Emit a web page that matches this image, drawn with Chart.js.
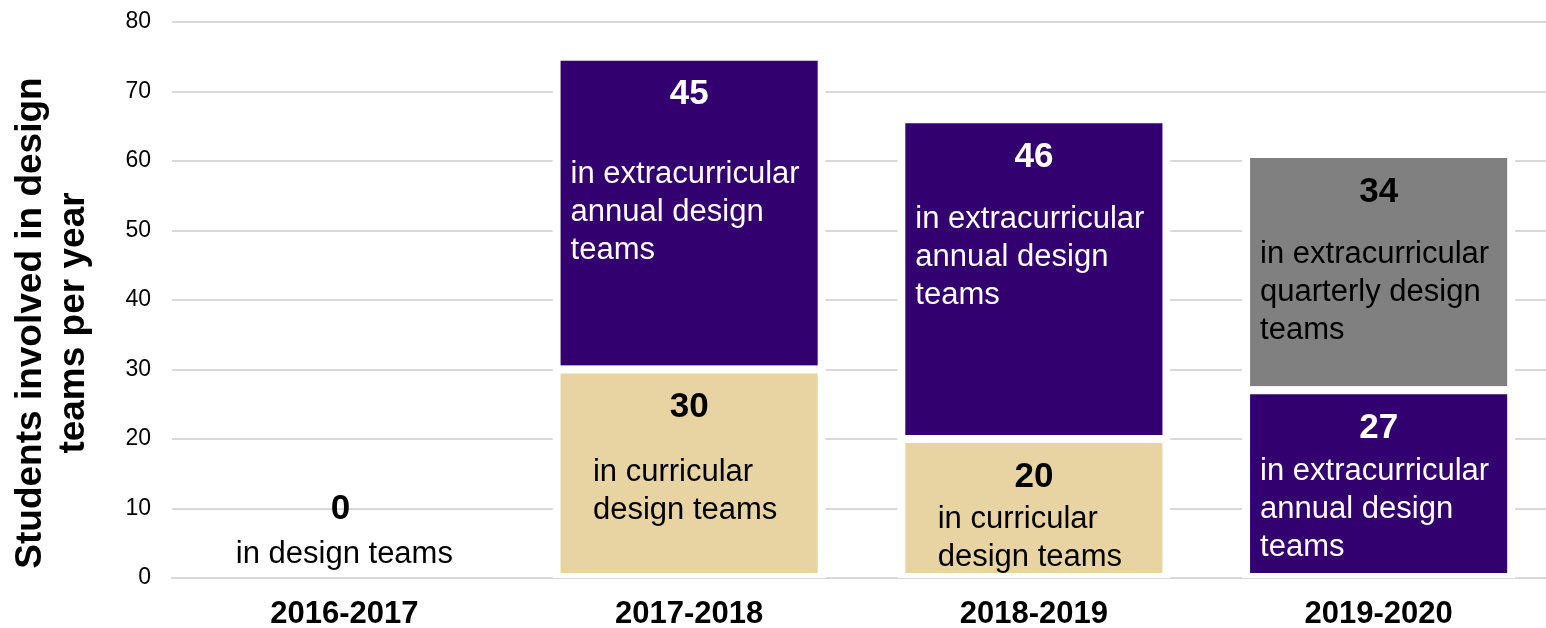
<!DOCTYPE html>
<html>
<head>
<meta charset="utf-8">
<script src="https://cdn.jsdelivr.net/npm/chart.js@4/dist/chart.umd.min.js"></script>
<style>
  html, body { margin: 0; padding: 0; background: #fff; overflow: hidden; }
</style>
</head>
<body>
<canvas id="grafico" width="1551" height="628"></canvas>
<script>
const anos = ["2016-2017", "2017-2018", "2018-2019", "2019-2020"];
const curriculares = [0, 30, 20, 0];
const anuais = [0, 45, 46, 27];
const trimestrais = [0, 0, 0, 34];
const ticksY = [0, 10, 20, 30, 40, 50, 60, 70, 80];

const textoCurricular = ["in curricular", "design teams"];
const textoAnual = ["in extracurricular", "annual design", "teams"];
const textoTrimestral = ["in extracurricular", "quarterly design", "teams"];
const textoZero = ["in design teams"];
const tituloY = ["Students involved in design", "teams per year"];

const FONTE = "'Liberation Sans', Arial, sans-serif";
const ROXO = "#33006f";
const BEGE = "#e8d3a2";
const CINZA = "#808080";

// distance between the number and the first caption line, per segment
const espacos = [
    [0, 65, 42, 0],
    [0, 80, 62, 43],
    [0, 0, 0, 62]
];

function desenharRotulo(ctx, x, yNum, valor, linhas, espaco, cor) {
    ctx.fillStyle = cor;
    ctx.textBaseline = "middle";
    ctx.textAlign = "center";
    ctx.font = "bold 35px " + FONTE;
    ctx.fillText(String(valor), x, yNum);
    ctx.font = "31px " + FONTE;
    let largura = 0;
    linhas.forEach(l => { largura = Math.max(largura, ctx.measureText(l).width); });
    ctx.textAlign = "left";
    const x0 = linhas.length > 1 ? x - largura / 2 - 4 : x - largura / 2 + 4;
    linhas.forEach((l, k) => {
        ctx.fillText(l, x0, yNum + espaco + k * 38);
    });
}

const rotulos = {
    id: "rotulos",
    afterDatasetsDraw(chart) {
        const ctx = chart.ctx;
        const textos = [textoCurricular, textoAnual, textoTrimestral];
        const cores = ["#000", "#fff", "#000"];
        ctx.save();
        anos.forEach((ano, i) => {
            let total = 0;
            chart.data.datasets.forEach((ds, d) => {
                const v = ds.data[i];
                total += v;
                if (!v) return;
                const barra = chart.getDatasetMeta(d).data[i];
                desenharRotulo(ctx, barra.x, barra.y + 38, v, textos[d], espacos[d][i], cores[d]);
            });
            if (total === 0) {
                const x = chart.getDatasetMeta(0).data[i].x;
                const base = chart.scales.y.getPixelForValue(0);
                desenharRotulo(ctx, x - 4, base - 69, 0, textoZero, 45, "#000");
            }
        });
        ctx.restore();
    }
};

const tituloEixo = {
    id: "tituloEixo",
    afterDraw(chart) {
        const ctx = chart.ctx;
        ctx.save();
        ctx.translate(0, 323);
        ctx.rotate(-Math.PI / 2);
        ctx.fillStyle = "#000";
        ctx.font = "bold 37px " + FONTE;
        ctx.textAlign = "center";
        ctx.textBaseline = "alphabetic";
        ctx.fillText(tituloY[0], 0, 41);
        ctx.fillText(tituloY[1], 0, 84);
        ctx.restore();
    }
};

function serie(nome, dados, cor) {
    return {
        label: nome,
        data: dados,
        backgroundColor: cor,
        borderColor: "#fff",
        borderWidth: c => c.raw ? 8 : 0,
        inflateAmount: c => c.raw ? 4 : 0,
        borderSkipped: false,
        barPercentage: 0.769,
        categoryPercentage: 1
    };
}

new Chart(document.getElementById("grafico").getContext("2d"), {
    type: "bar",
    data: {
        labels: anos,
        datasets: [
            serie("curricular", curriculares, BEGE),
            serie("extracurricular annual", anuais, ROXO),
            serie("extracurricular quarterly", trimestrais, CINZA)
        ]
    },
    options: {
        responsive: false,
        animation: false,
        layout: { padding: { top: 22, left: 0, right: 0, bottom: 0 } },
        plugins: {
            legend: { display: false },
            tooltip: { enabled: false }
        },
        scales: {
            x: {
                stacked: true,
                z: 1,
                grid: { display: false, drawTicks: false },
                border: { display: true, color: "#d9d9d9", width: 2 },
                ticks: {
                    color: "#000",
                    padding: 18,
                    font: { family: FONTE, size: 31, weight: "bold" }
                },
                afterFit: s => { s.height = 50; }
            },
            y: {
                stacked: true,
                min: 0,
                max: 80,
                afterBuildTicks: s => { s.ticks = ticksY.map(v => ({ value: v })); },
                grid: { color: "#d9d9d9", lineWidth: 2, drawTicks: false },
                border: { display: false },
                ticks: {
                    color: "#000",
                    padding: 21,
                    font: { family: FONTE, size: 23 }
                },
                afterFit: s => {
                    s.width = 172;
                    s.paddingTop = 0;
                    s.paddingBottom = 0;
                }
            }
        }
    },
    plugins: [rotulos, tituloEixo]
});
</script>
</body>
</html>
